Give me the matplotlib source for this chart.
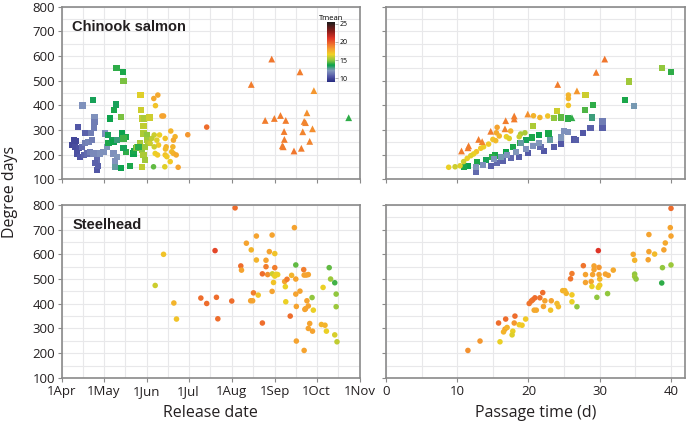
import numpy as np
import matplotlib
matplotlib.use("Agg")
import matplotlib.pyplot as plt
from matplotlib.colors import LinearSegmentedColormap, Normalize
from matplotlib.ticker import FixedLocator, MultipleLocator

plt.rcParams['font.family'] = ['Open Sans', 'DejaVu Sans']

# ---- data: Chinook salmon, release date (days after 1 Apr) ----
ck_sq_day = [11.7, 14.8, 22.2, 23.4, 23.4, 23.2, 16.7, 20.8, 8.4, 10.3, 7.2, 9.6, 12, 14.4, 16.7, 19.1,
             21.5, 10.8, 13.2, 15.6, 17.9, 20.3, 22.7, 25.1, 23.9, 25.1, 25.8, 27.5, 29.9, 32.3, 31.1,
             33, 33.5, 35.9, 37.1, 39.5, 34.7, 37.6, 39, 39.2, 43.8, 44.3, 42.3, 43.1, 46.2, 44.3, 37.1,
             39.5, 38.3, 38.3, 42.3, 49, 46.2, 44.3, 51.4, 51.9, 53.1, 54.3, 56.2, 57.4, 58.6, 59.8, 57.4,
             56.5, 56.7, 57.4, 59.1, 62.9, 58.6, 58.6, 61, 61, 62.2, 59.8, 55]
ck_sq_dd = [311, 400, 423, 354, 334, 308, 289, 289, 259, 257, 239, 232, 226, 232, 246, 253,
            259, 205, 192, 199, 205, 212, 205, 178, 165, 138, 155, 205, 212, 232, 286,
            280, 246, 259, 253, 259, 347, 381, 404, 553, 536, 499, 354, 286, 273, 266, 205,
            192, 172, 151, 145, 155, 212, 226, 205, 216, 226, 232, 246, 219, 199, 178, 151,
            442, 381, 347, 347, 351, 316, 286, 280, 259, 246, 232, 232]
ck_sq_t = [10.5, 12, 13.5, 12, 11.5, 11.5, 10.8, 11.5, 10, 10, 10, 10.2, 10.3, 11, 11.5, 11.7,
           11.5, 10.3, 10.5, 10.8, 11, 11.5, 11.8, 11, 10.8, 10.5, 10.8, 12, 12, 12.2, 12,
           13.5, 13.8, 13.5, 13.7, 13, 13.7, 13.8, 13.5, 14, 13.8, 14.8, 14.8, 13.6, 13.8, 14.2, 12,
           12.2, 12, 12.5, 13.6, 13.8, 14, 13.5, 13.7, 13.8, 14.5, 15.2, 15.5, 15, 15.5, 15.3, 15.8,
           16.3, 16, 15.8, 15.5, 16, 15.8, 15.5, 15, 15.3, 15.6, 15.2, 14]

ck_ci_day = [66, 68.9, 67.2, 71.8, 73, 66.3, 70.1, 68.2, 69.4, 66.3, 67, 68.7, 65.8, 74.2, 74.9, 74.4,
             78.2, 81.3, 80.1, 79.7, 74.2, 75.4, 73.9, 77.8, 78.9, 80.1, 82.1, 83.5, 90.4, 104, 63.4, 64.6]
ck_ci_dd = [428, 442, 399, 357, 357, 280, 280, 259, 239, 232, 205, 199, 151, 266, 232, 223,
            296, 273, 259, 232, 199, 192, 151, 172, 212, 205, 199, 149, 281, 312, 246, 266]
ck_ci_t = [17.8, 17.8, 17, 18, 18, 16, 16.5, 16.3, 16.8, 16, 16.5, 16.8, 14.5, 17, 17.5, 17.3,
           17.5, 17.5, 17.8, 17.5, 17, 16.8, 16.3, 16.8, 17.2, 17.5, 17.8, 18, 18.3, 19.5, 16, 15.8]

ck_tr_day = [136, 150.7, 171, 181, 146, 152.6, 157, 160.8, 176, 174, 175, 180, 159.6, 173, 159.8,
             158.3, 159, 178, 166.7, 172, 206]
ck_tr_dd = [485, 588, 536, 460, 339, 347, 359, 339, 370, 335, 330, 305, 294, 293, 262,
            236, 232, 254, 215, 226, 350]
ck_tr_t = [19, 19.2, 19, 18.3, 19, 19, 19, 19, 18.5, 18.8, 18.8, 18.6, 19, 18.8, 19,
           19, 19, 18.8, 19.2, 19, 14]

# ---- data: Chinook salmon, passage time (d) ----
cp_sq_pt = [38.7, 40, 34.1, 33.6, 34.8, 28, 24, 20.6, 29, 27.9, 28.9, 23.6, 24.6, 25.5, 30.4, 30.4,
            28.7, 27.6, 25, 25.6, 24.6, 23, 22.8, 21.5, 20.5, 19.6, 18.8, 17.8, 16.8, 15.3, 14.9, 14,
            12.8, 11.5, 10.9, 26.4, 26.7, 24.6, 23.6, 22.2, 21.7, 19.9, 18.7, 17.6, 16.4, 15.6, 14.7,
            12.6, 20.6, 21.5, 19.6, 18.2, 17, 16.1, 15.2, 13.6, 12.6, 19]
cp_sq_dd = [551, 535, 497, 423, 399, 442, 378, 315, 403, 382, 351, 349, 351, 347, 335, 309,
            309, 289, 295, 291, 270, 262, 286, 281, 270, 259, 246, 230, 212, 197, 192, 178,
            169, 155, 150, 262, 259, 243, 232, 216, 232, 208, 192, 186, 173, 165, 155,
            132, 235, 246, 222, 211, 199, 192, 181, 159, 151, 249]
cp_sq_t = [15, 14, 15.3, 13.8, 12.3, 16, 16, 15.5, 14, 14.3, 13, 15, 14.5, 14, 11.5, 10.7,
           10.8, 10.5, 12, 12, 12.2, 12.5, 13.8, 13.7, 13.8, 13.5, 14, 13.8, 13.7, 13.8, 14, 13.5,
           13.8, 13.6, 13.8, 10.5, 10.7, 10.5, 10.7, 10.5, 11, 10.6, 10.7, 11, 10.8, 11, 10.8,
           11, 12, 12.2, 12, 12.2, 12, 12.3, 12, 12, 12.2, 12.5]

cp_ci_pt = [25.6, 25.6, 25.6, 20.7, 21.6, 22.7, 17.5, 15.6, 15.5, 15.9, 15, 15.4, 14.4, 13.7, 13.3,
            12.7, 12.3, 11.9, 11.4, 10.9, 10.4, 9.7, 8.8, 18.9, 19.5, 16.9, 17.3, 18.7]
cp_ci_dd = [442, 428, 400, 358, 351, 357, 296, 311, 289, 276, 262, 257, 243, 232, 226,
            212, 203, 196, 185, 172, 155, 151, 149, 284, 289, 273, 266, 273]
cp_ci_t = [17.5, 17.5, 17, 17.5, 17.5, 17, 17.5, 18, 17.8, 17.5, 17, 17.3, 16.8, 16.5, 16.8,
           17, 16.5, 16.3, 16.5, 16, 16.3, 16, 16.5, 15.5, 15.5, 16.5, 16.3, 16]

cp_tr_pt = [30.7, 29.5, 24.1, 26.8, 19.9, 18, 18, 16.8, 16.7, 14.7, 13, 13.5, 11.6, 11.5, 10.6, 26.1]
cp_tr_dd = [588, 534, 485, 459, 365, 357, 345, 338, 305, 295, 262, 253, 236, 228, 215, 350]
cp_tr_t = [19.2, 19, 19, 18.3, 18.5, 19, 19, 19, 18.8, 19, 19, 18.8, 19, 19, 19, 14]

# ---- data: Steelhead ----
sh_day = [67, 73, 80.4, 82.3, 99.8, 104, 110, 111, 112, 122, 124.4, 128.5, 129, 132.5, 136, 135.6,
          137, 137.6, 139.7, 139.7, 141, 144, 144, 146.6, 146.6, 147.8, 149, 151, 151, 151.2, 152,
          152.9, 152.9, 152.9, 154, 155, 160, 160.5, 160.8, 161.7, 164, 165, 167, 168, 168, 168,
          168.4, 168.4, 171, 173.7, 174, 175.5, 177, 174.5, 175, 176, 177, 178, 177, 180, 174,
          179.7, 180.6, 187.6, 186.4, 189, 190, 192, 193, 196, 197, 197, 196, 197.6]
sh_dd = [474, 600, 403, 338, 423, 401, 615, 426, 339, 411, 788, 553, 536, 645, 618, 412,
         412, 444, 674, 577, 435, 521, 322, 576, 550, 518, 611, 678, 450, 521, 486,
         603, 546, 512, 519, 518, 490, 469, 408, 499, 350, 515, 708, 557, 500, 439,
         389, 249, 451, 538, 516, 516, 518, 377, 380, 412, 391, 320, 300, 289, 211,
         425, 374, 466, 316, 313, 289, 546, 500, 485, 439, 388, 274, 246]
sh_t = [16, 17, 17.5, 17, 19.5, 19.5, 20.5, 19.5, 19.5, 19.5, 19.5, 19.5, 18, 18, 17.5, 18,
        18, 19, 18, 17.5, 17, 19.5, 19.5, 18, 19, 18.5, 18, 18, 18, 16, 17,
        17, 19, 16.5, 16.5, 16.5, 18, 16.5, 16.5, 19, 19.5, 17.5, 18, 14.5, 18, 18,
        18, 18, 18, 19, 18, 18, 18, 18, 18, 18, 18, 18, 18, 18, 18,
        15, 16.5, 16.5, 17.5, 17.5, 16.5, 14.5, 15.2, 14.2, 15, 15.2, 16.2, 15.8]

sp_pt = [11.5, 13.2, 16, 15.8, 16.8, 16.7, 17, 16.5, 18.1, 18, 17.8, 17.7, 18.7, 19.1, 19.6, 20.1,
         20.4, 20.6, 20.9, 20.8, 21.1, 21.6, 22, 22.3, 22.1, 23.1, 23.2, 24, 24.2, 24.8, 25.1, 25.3,
         26.1, 26.1, 25.9, 26.1, 26.8, 27.7, 28, 28, 28.8, 28.9, 29, 29.2, 29.2, 29.9, 29.9, 30,
         29.8, 29.8, 30, 29.6, 30.8, 31.2, 31.1, 31.9, 34.7, 34.9, 34.9, 34.9, 35.1, 36.9, 36.9,
         36.8, 37.7, 39, 39.2, 38.8, 38.7, 39.9, 40, 40, 40]
sp_dd = [211, 249, 246, 322, 338, 297, 304, 286, 350, 322, 289, 274, 315, 313, 338, 401,
         411, 416, 424, 374, 374, 424, 445, 412, 389, 374, 412, 401, 388, 453, 453, 442,
         436, 408, 501, 522, 388, 554, 518, 486, 490, 470, 518, 553, 538, 547, 518, 500,
         615, 466, 475, 426, 520, 515, 441, 536, 600, 576, 520, 510, 500, 680, 611,
         578, 601, 618, 646, 546, 484, 708, 674, 786, 557]
sp_t = [18.5, 18.3, 16.5, 19.5, 19.5, 18, 17.5, 17.5, 19.5, 18.3, 16.5, 16.3, 16.8, 16.8, 16.8, 19.3,
        19.3, 19.3, 19.5, 17.8, 17.8, 19.3, 19.5, 18, 18, 17, 18, 17.3, 17.3, 17.5, 17.5, 17.5,
        16.8, 16.5, 19.3, 19, 15, 19.3, 18, 18, 18, 16.5, 18, 18, 18, 18.3, 18, 17.5,
        21, 16.5, 16.8, 15, 18, 18, 15, 17.8, 17.8, 17.5, 15, 15.3, 15, 18, 18,
        18, 17.3, 18, 17.8, 15, 14, 18, 18, 19.5, 15.2]

month_days = [0, 30, 61, 91, 122, 153, 183, 214]
month_labels = ['1Apr', '1May', '1Jun', '1Jul', '1Aug', '1Sep', '1Oct', '1Nov']

# colour scale for Tmean
cmap = LinearSegmentedColormap.from_list('tmean', [
    (0.0, '#262a80'), (0.09, '#5257a6'), (0.19, '#8497be'), (0.28, '#0aa24c'),
    (0.36, '#8cc63f'), (0.46, '#f0d124'), (0.55, '#f5a030'), (0.64, '#ee6a2c'),
    (0.73, '#df3427'), (0.85, '#8a1d19'), (1.0, '#1b1b1b')])
norm = Normalize(vmin=9, vmax=25.5)

fig = plt.figure(figsize=(6.88, 4.26), dpi=100)
ax_tl = fig.add_axes([0.090, 0.579, 0.433, 0.405])
ax_tr = fig.add_axes([0.561, 0.579, 0.435, 0.405])
ax_bl = fig.add_axes([0.090, 0.113, 0.433, 0.406])
ax_br = fig.add_axes([0.561, 0.113, 0.435, 0.406])

spine_col = '#8a8a8a'
for ax in (ax_tl, ax_tr, ax_bl, ax_br):
    ax.set_ylim(100, 800)
    ax.yaxis.set_major_locator(MultipleLocator(100))
    ax.yaxis.set_minor_locator(MultipleLocator(50))
    ax.grid(which='both', color='#e8e8ea', linewidth=0.8)
    ax.set_axisbelow(True)
    for s in ax.spines.values():
        s.set_color(spine_col)
        s.set_linewidth(1.2)
    ax.tick_params(which='major', direction='out', length=3, color=spine_col,
                   labelsize=9.5, labelcolor='#231f20', pad=2)
    ax.tick_params(which='minor', length=0)

for ax in (ax_tl, ax_bl):
    ax.set_xlim(0, 214)
    ax.xaxis.set_major_locator(FixedLocator(month_days))
    ax.xaxis.set_minor_locator(FixedLocator([(a + b) / 2 for a, b in zip(month_days[:-1], month_days[1:])]))
for ax in (ax_tr, ax_br):
    ax.set_xlim(0, 42)
    ax.xaxis.set_major_locator(MultipleLocator(10))
    ax.xaxis.set_minor_locator(MultipleLocator(5))
    ax.tick_params(axis='y', labelleft=False)
for ax in (ax_tl, ax_tr):
    ax.tick_params(axis='x', labelbottom=False)
ax_bl.set_xticklabels(month_labels)

sq = dict(marker='s', s=20, cmap=cmap, norm=norm, linewidths=0)
ci = dict(marker='o', s=16, cmap=cmap, norm=norm, linewidths=0)
tr = dict(marker='^', s=24, cmap=cmap, norm=norm, linewidths=0)

ax_tl.scatter(ck_sq_day, ck_sq_dd, c=ck_sq_t, **sq)
ax_tl.scatter(ck_ci_day, ck_ci_dd, c=ck_ci_t, **ci)
ax_tl.scatter(ck_tr_day, ck_tr_dd, c=ck_tr_t, **tr)
ax_tr.scatter(cp_sq_pt, cp_sq_dd, c=cp_sq_t, **sq)
ax_tr.scatter(cp_ci_pt, cp_ci_dd, c=cp_ci_t, **ci)
ax_tr.scatter(cp_tr_pt, cp_tr_dd, c=cp_tr_t, **tr)
ax_bl.scatter(sh_day, sh_dd, c=sh_t, **ci)
ax_br.scatter(sp_pt, sp_dd, c=sp_t, **ci)

ax_tl.text(0.035, 0.885, 'Chinook salmon', transform=ax_tl.transAxes, fontsize=10.5,
           fontweight='bold', family='Liberation Sans', color='#231f20', va='center')
ax_bl.text(0.035, 0.885, 'Steelhead', transform=ax_bl.transAxes, fontsize=10.5,
           fontweight='bold', family='Liberation Sans', color='#231f20', va='center')

fig.text(0.014, 0.55, 'Degree days', rotation=90, ha='center', va='center', fontsize=11.5, color='#231f20')
fig.text(0.306, 0.03, 'Release date', ha='center', va='center', fontsize=11.5, color='#231f20')
fig.text(0.779, 0.03, 'Passage time (d)', ha='center', va='center', fontsize=11.5, color='#231f20')

# colour bar
cax = fig.add_axes([327 / 688, 1 - 82 / 426, 8 / 688, 60 / 426])
cb = fig.colorbar(plt.cm.ScalarMappable(norm=norm, cmap=cmap), cax=cax, ticks=[10, 15, 20, 25])
cb.outline.set_visible(False)
cax.tick_params(labelsize=5, length=2, width=0.5, pad=1, color='#999999')
cax.set_title('Tmean', fontsize=5.5, pad=1.5)

fig.savefig('out.png', dpi=100)
